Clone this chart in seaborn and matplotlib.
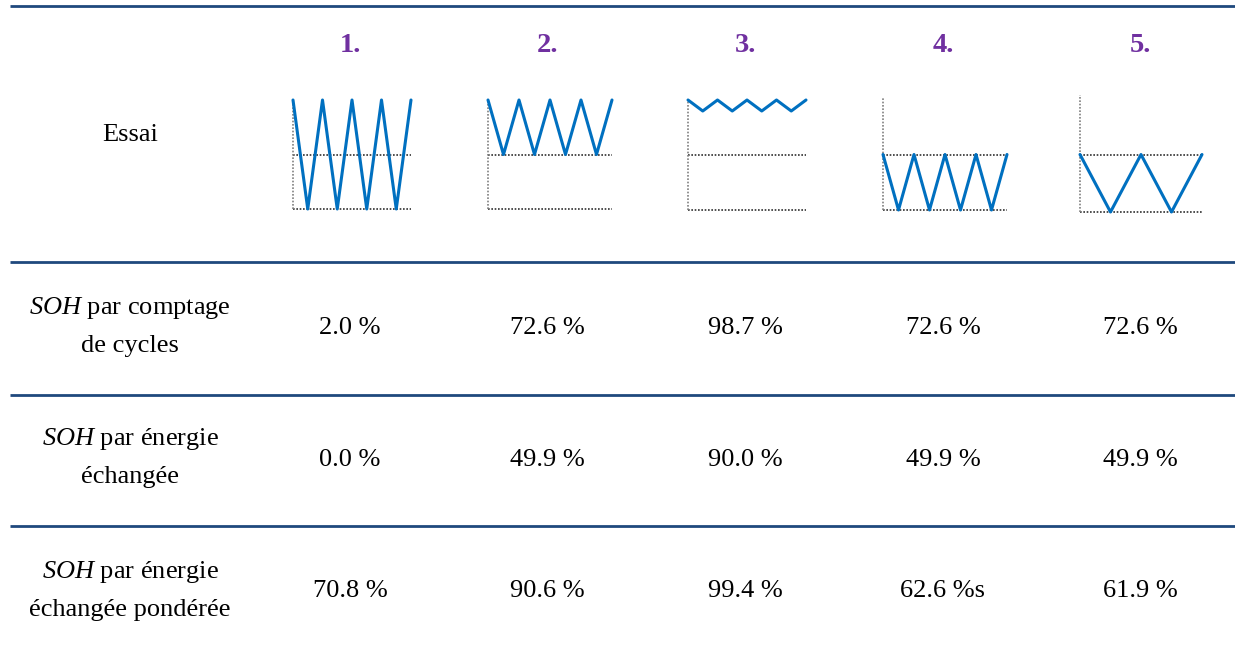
import matplotlib
matplotlib.use("Agg")
import matplotlib.pyplot as plt
import seaborn as sns
import pandas as pd

sns.set_theme(style="white")
plt.rcParams['font.family'] = ['Liberation Serif', 'DejaVu Serif']
plt.rcParams['mathtext.fontset'] = 'custom'
plt.rcParams['mathtext.rm'] = 'Liberation Serif'
plt.rcParams['mathtext.it'] = 'Liberation Serif:italic'

# ---- data ----
tests = ["1.", "2.", "3.", "4.", "5."]
row_labels = [
    ("$\\mathit{SOH}$ par comptage", "de cycles"),
    ("$\\mathit{SOH}$ par énergie", "échangée"),
    ("$\\mathit{SOH}$ par énergie", "échangée pondérée"),
]
soh_cycles = ["2.0 %", "72.6 %", "98.7 %", "72.6 %", "72.6 %"]
soh_energy = ["0.0 %", "49.9 %", "90.0 %", "49.9 %", "49.9 %"]
soh_weighted = ["70.8 %", "90.6 %", "99.4 %", "62.6 %s", "61.9 %"]
# SOC profiles (%) for each test, sampled at successive extrema
soc_profiles = [
    [100, 0, 100, 0, 100, 0, 100, 0, 100],
    [100, 50, 100, 50, 100, 50, 100, 50, 100],
    [100, 90, 100, 90, 100, 90, 100, 90, 100],
    [50, 0, 50, 0, 50, 0, 50, 0, 50],
    [50, 0, 50, 0, 50],
]

W, H = 1235, 654
fig = plt.figure(figsize=(W / 100, H / 100), dpi=100)
ax = fig.add_axes([0, 0, 1, 1])
ax.set_xlim(0, W)
ax.set_ylim(H, 0)
ax.axis("off")

line_color = "#1F497D"
for y in [6, 262, 394.5, 525.5]:
    ax.plot([10, W], [y, y], color=line_color, lw=2.0, solid_capstyle="butt")

col_x = [350, 547, 745, 943, 1140]
fs = 19
for x, t in zip(col_x, tests):
    ax.text(x, 52, t, ha="center", va="baseline", fontsize=20.5,
            fontweight="bold", color="#7030A0")

ax.text(130, 141, "Essai", ha="center", va="baseline", fontsize=fs, color="black")

label_base = [(314, 352), (445, 483), (578, 616)]
value_base = [334, 466, 597]
values = [soh_cycles, soh_energy, soh_weighted]
for (l1, l2), (b1, b2), vb, vals in zip(row_labels, label_base, value_base, values):
    ax.text(130, b1, l1, ha="center", va="baseline", fontsize=fs, color="black")
    ax.text(130, b2, l2, ha="center", va="baseline", fontsize=fs, color="black")
    for x, v in zip(col_x, vals):
        ax.text(x, vb, v, ha="center", va="baseline", fontsize=fs, color="black")

# waveform boxes: left, right, pixel y of 0 %, pixel y of 100 %, top of vertical axis
boxes = [
    (293, 411, 209, 100, 100),
    (488, 612, 209, 100, 100),
    (688, 806, 210, 100, 100),
    (883, 1007, 210, 99, 97),
    (1080, 1202, 212, 97, 95),
]
for (l, r, y0, y100, ytop), prof in zip(boxes, soc_profiles):
    iax = fig.add_axes([l / W, 1 - y0 / H, (r - l) / W, (y0 - y100) / H])
    n = len(prof) - 1
    iax.plot([0, n], [50, 50], color="#303030", lw=1.2, ls=(0, (1, 1)), clip_on=False)
    iax.plot([0, n], [0, 0], color="#303030", lw=1.2, ls=(0, (1, 1)), clip_on=False)
    top = 100 * (y0 - ytop) / (y0 - y100)
    iax.plot([0, 0], [0, top], color="#808080", lw=1.2, ls=(0, (1, 1)), clip_on=False)
    df = pd.DataFrame({"t": range(len(prof)), "soc": prof})
    sns.lineplot(data=df, x="t", y="soc", ax=iax, color="#0070C0", lw=2.2)
    for ln in iax.lines:
        ln.set_clip_on(False)
    iax.set_xlim(0, n)
    iax.set_ylim(0, 100)
    iax.axis("off")

fig.savefig("out.png", dpi=100)
